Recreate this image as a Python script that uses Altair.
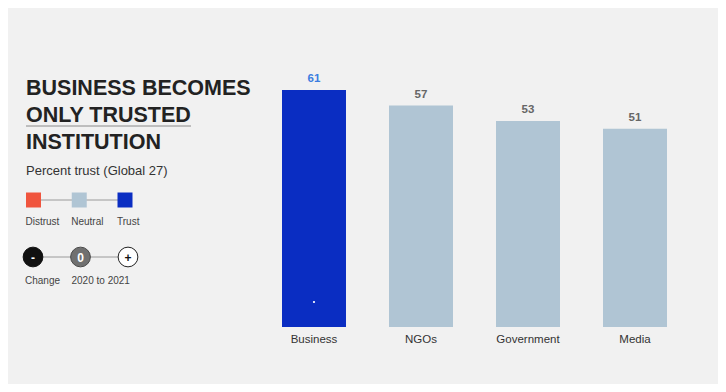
import altair as alt
import pandas as pd

# ---- data ----
categories = ["Business", "NGOs", "Government", "Media"]
trust = [61, 57, 53, 51]
level = ["Trust", "Neutral", "Neutral", "Neutral"]

title_lines = ["BUSINESS BECOMES", "ONLY TRUSTED", "INSTITUTION"]
subtitle = "Percent trust (Global 27)"
legend_levels = ["Distrust", "Neutral", "Trust"]
change_symbols = ["-", "0", "+"]
change_labels = ["Change", "2020 to 2021"]

# ---- styles ----
LEVEL_COLORS = ["#f0553e", "#b0c5d4", "#0a2dc2"]
CHANGE_FILL = ["#111111", "#707070", "#ffffff"]
CHANGE_STROKE = ["#111111", "#4a4a4a", "#222222"]
CHANGE_TEXT = ["#ffffff", "#ffffff", "#111111"]
FONT = "Liberation Sans"
BG = "#f1f1f1"

df = pd.DataFrame({"category": categories, "trust": trust, "level": level})
leg_df = pd.DataFrame({"level": legend_levels, "i": list(range(len(legend_levels)))})
chg_df = pd.DataFrame({"sym": change_symbols, "i": list(range(len(change_symbols)))})
chg_lab_df = pd.DataFrame({"label": change_labels, "i": list(range(len(change_labels)))})
title_df = pd.DataFrame({"title": ["\n".join(title_lines)], "sub": [subtitle]})

x_scale = alt.Scale(domain=categories, range=[274, 659], paddingInner=0.402, paddingOuter=0)
y_scale = alt.Scale(domain=[0, 82.1], nice=False, zero=True)
color_scale = alt.Scale(domain=legend_levels, range=LEVEL_COLORS)
x_axis = alt.Axis(title=None, domain=False, ticks=False, labelAngle=0,
                  labelPadding=6, labelFontSize=11.5, labelColor="#333333",
                  labelFont=FONT, grid=False)

base = alt.Chart(df)
bars = base.mark_bar().encode(
    x=alt.X("category:N", scale=x_scale, sort=categories, axis=x_axis),
    y=alt.Y("trust:Q", scale=y_scale, axis=None),
    color=alt.Color("level:N", scale=color_scale, legend=None),
)
value_labels = base.mark_text(baseline="alphabetic", dy=-8, fontSize=11.5,
                              fontWeight="bold", font=FONT).encode(
    x=alt.X("category:N", scale=x_scale, sort=categories, axis=x_axis),
    y=alt.Y("trust:Q", scale=y_scale, axis=None),
    text="trust:Q",
    color=alt.condition(alt.datum.level == "Trust", alt.value("#3b7de0"), alt.value("#666666")),
)
dot = base.transform_filter(alt.datum.category == "Business").mark_point(
    filled=True, color="#ffffff", size=5, opacity=1).encode(
    x=alt.X("category:N", scale=x_scale, sort=categories, axis=x_axis),
    y=alt.value(294),
)
bar_layer = alt.layer(bars, value_labels, dot)

# ---- left panel ----
title = alt.Chart(title_df).mark_text(
    align="left", baseline="alphabetic", fontSize=21.5, fontWeight="bold",
    font=FONT, color="#222222", lineBreak="\n", lineHeight=27).encode(
    x=alt.value(18), y=alt.value(87), text="title:N")
underline = alt.Chart(title_df).mark_rule(color="#8a8a8a", strokeWidth=1).encode(
    x=alt.value(18), x2=alt.value(183), y=alt.value(118))
sub = alt.Chart(title_df).mark_text(
    align="left", baseline="alphabetic", fontSize=13, font=FONT, color="#333333").encode(
    x=alt.value(18), y=alt.value(167), text="sub:N")

leg_x = alt.Scale(domain=[0, 2], range=[25.5, 117])
conn1 = alt.Chart(title_df).mark_rule(color="#9a9a9a", strokeWidth=1).encode(
    x=alt.value(25.5), x2=alt.value(117), y=alt.value(192))
squares = alt.Chart(leg_df).mark_square(size=225, opacity=1).encode(
    x=alt.X("i:Q", scale=leg_x, axis=None), y=alt.value(192),
    color=alt.Color("level:N", scale=color_scale, legend=None))
leg_text = alt.Chart(leg_df).mark_text(
    align="left", dx=-8, baseline="alphabetic", fontSize=10, font=FONT, color="#444444").encode(
    x=alt.X("i:Q", scale=leg_x, axis=None), y=alt.value(217), text="level:N")

chg_x = alt.Scale(domain=[0, 2], range=[25, 120])
conn2 = alt.Chart(title_df).mark_rule(color="#9a9a9a", strokeWidth=1).encode(
    x=alt.value(25), x2=alt.value(120), y=alt.value(249))
circles = alt.Chart(chg_df).mark_circle(size=390, opacity=1, strokeWidth=1).encode(
    x=alt.X("i:Q", scale=chg_x, axis=None), y=alt.value(249),
    color=alt.Color("sym:N", scale=alt.Scale(domain=change_symbols, range=CHANGE_FILL), legend=None),
    stroke=alt.Stroke("sym:N", scale=alt.Scale(domain=change_symbols, range=CHANGE_STROKE), legend=None))
circ_text = alt.Chart(chg_df).mark_text(
    baseline="middle", fontSize=12, fontWeight="bold", font=FONT, dy=0.5).encode(
    x=alt.X("i:Q", scale=chg_x, axis=None), y=alt.value(249), text="sym:N",
    color=alt.Color("sym:N", scale=alt.Scale(domain=change_symbols, range=CHANGE_TEXT), legend=None))
chg_text = alt.Chart(chg_lab_df).mark_text(
    align="left", dx=-8, baseline="alphabetic", fontSize=10, font=FONT, color="#444444").encode(
    x=alt.X("i:Q", scale=alt.Scale(domain=[0, 2], range=[25, 118]), axis=None),
    y=alt.value(276), text="label:N")

chart = alt.layer(
    title, underline, sub, conn1, squares, leg_text, conn2, circles, circ_text, chg_text, bar_layer
).resolve_scale(
    x="independent", y="independent", color="independent", stroke="independent"
).properties(
    width=710, height=319,
    padding={"left": 0, "right": 0, "top": 0, "bottom": 57},
    autosize="none", background=BG,
).configure_view(stroke=None)

chart.save("out.html", embed_options={"renderer": "svg", "actions": False})
